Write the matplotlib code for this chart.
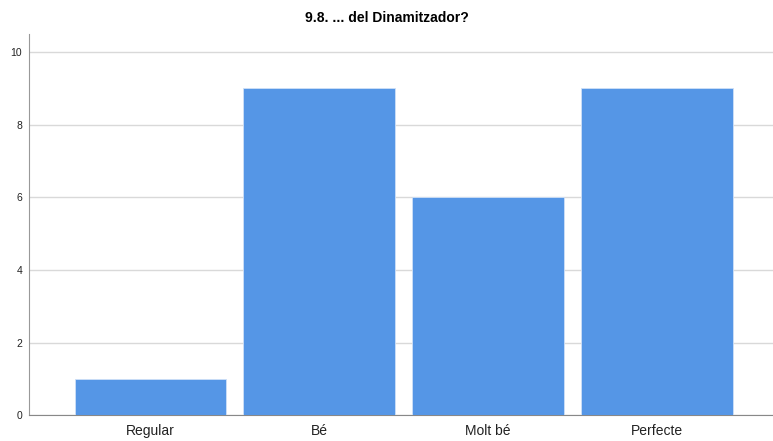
import matplotlib
matplotlib.use("Agg")
from matplotlib import pyplot as plt

categories = ["Regular", "Bé", "Molt bé", "Perfecte"]
counts = [1, 9, 6, 9]
y_ticks = [0, 2, 4, 6, 8, 10]
title = "9.8. ... del Dinamitzador?"

plt.rcParams["font.family"] = ["Liberation Sans", "DejaVu Sans"]

fig = plt.figure(figsize=(7.73, 4.41), dpi=100)
ax = fig.add_axes([0.0375, 0.058, 0.9625, 0.865])

x = range(len(categories))
ax.bar(x, counts, width=0.9, color="#5596e6", edgecolor="#cfe0f7", linewidth=0.6, zorder=3)

ax.set_xlim(-0.72, 3.69)
ax.set_ylim(0, 10.5)
ax.set_yticks(y_ticks)
ax.set_xticks(list(x))
ax.set_xticklabels(categories, fontsize=10, color="#222222")
ax.tick_params(axis="y", labelsize=7.5, colors="#222222", length=0, pad=5)
ax.tick_params(axis="x", length=0, pad=6)
ax.yaxis.grid(True, color="#d9d9d9", linewidth=1.0, zorder=0)

for s in ["top", "right"]:
    ax.spines[s].set_visible(False)
ax.spines["left"].set_color("#999999")
ax.spines["bottom"].set_color("#888888")

fig.text(0.5, 0.96, title, ha="center", va="center", fontsize=10, fontweight="bold")

fig.savefig("out.png", dpi=100)
plt.close()
